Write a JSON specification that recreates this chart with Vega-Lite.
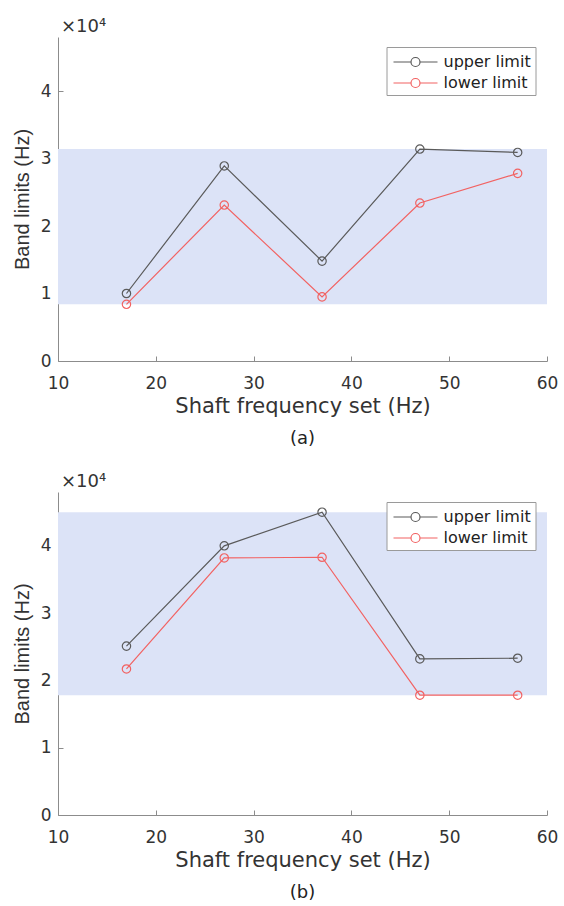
{
  "$schema": "https://vega.github.io/schema/vega-lite/v6.json",
  "background": "white",
  "padding": {"left": 12, "top": 18, "right": 12, "bottom": 5},
  "spacing": 25,
  "datasets": {
    "limits": [
      {"panel": "a", "series": "upper limit", "freq": 17, "value": 10000},
      {"panel": "a", "series": "upper limit", "freq": 27, "value": 28900},
      {"panel": "a", "series": "upper limit", "freq": 37, "value": 14800},
      {"panel": "a", "series": "upper limit", "freq": 47, "value": 31400},
      {"panel": "a", "series": "upper limit", "freq": 57, "value": 30900},
      {"panel": "a", "series": "lower limit", "freq": 17, "value": 8400},
      {"panel": "a", "series": "lower limit", "freq": 27, "value": 23100},
      {"panel": "a", "series": "lower limit", "freq": 37, "value": 9500},
      {"panel": "a", "series": "lower limit", "freq": 47, "value": 23400},
      {"panel": "a", "series": "lower limit", "freq": 57, "value": 27800},
      {"panel": "b", "series": "upper limit", "freq": 17, "value": 25100},
      {"panel": "b", "series": "upper limit", "freq": 27, "value": 40000},
      {"panel": "b", "series": "upper limit", "freq": 37, "value": 45000},
      {"panel": "b", "series": "upper limit", "freq": 47, "value": 23200},
      {"panel": "b", "series": "upper limit", "freq": 57, "value": 23300},
      {"panel": "b", "series": "lower limit", "freq": 17, "value": 21700},
      {"panel": "b", "series": "lower limit", "freq": 27, "value": 38200},
      {"panel": "b", "series": "lower limit", "freq": 37, "value": 38300},
      {"panel": "b", "series": "lower limit", "freq": 47, "value": 17800},
      {"panel": "b", "series": "lower limit", "freq": 57, "value": 17800}
    ]
  },
  "config": {
    "view": {"stroke": null},
    "axis": {
      "grid": false,
      "domainColor": "#8c8c8c",
      "tickColor": "#8c8c8c",
      "tickSize": -5,
      "labelFlush": false,
      "labelColor": "#333333",
      "labelFont": "DejaVu Sans",
      "labelFontSize": 17,
      "titleColor": "#333333",
      "titleFontWeight": "normal"
    },
    "title": {
      "font": "DejaVu Sans",
      "fontSize": 18,
      "fontWeight": "normal",
      "color": "#222222"
    },
    "legend": {
      "title": null,
      "orient": "none",
      "legendX": 328.5,
      "legendY": 10,
      "symbolType": "M-2.2,0H-0.45M0.45,0H2.2M0.45,0C0.45,0.2485 0.2485,0.45 0,0.45C-0.2485,0.45 -0.45,0.2485 -0.45,0C-0.45,-0.2485 -0.2485,-0.45 0,-0.45C0.2485,-0.45 0.45,-0.2485 0.45,0Z",
      "symbolSize": 400,
      "symbolOffset": 14,
      "symbolStrokeWidth": 1.2,
      "symbolFillColor": "transparent",
      "labelFont": "DejaVu Sans",
      "labelFontSize": 16,
      "labelColor": "#222222",
      "labelOffset": 17,
      "labelLimit": 200,
      "strokeColor": "#9a9a9a",
      "fillColor": "white",
      "padding": 4,
      "rowPadding": 2
    }
  },
  "resolve": {"legend": {"color": "independent"}},
  "vconcat": [
    {
      "width": 489,
      "height": 324,
      "title": {"text": "(a)", "orient": "bottom", "offset": 14},
      "data": {"name": "limits"},
      "transform": [{"filter": "datum.panel === 'a'"}],
      "layer": [
        {
          "transform": [{"aggregate": [{"op": "min", "field": "value", "as": "lo"}, {"op": "max", "field": "value", "as": "hi"}]}],
          "mark": {"type": "rect", "color": "#dce3f7"},
          "encoding": {
            "x": {"datum": 10, "type": "quantitative", "title": "Shaft frequency set (Hz)"},
            "x2": {"datum": 60},
            "y": {"field": "lo", "type": "quantitative", "title": "Band limits (Hz)"},
            "y2": {"field": "hi"}
          }
        },
        {
          "mark": {"type": "line", "strokeWidth": 1.2},
          "encoding": {
            "x": {"field": "freq", "type": "quantitative", "title": "Shaft frequency set (Hz)", "scale": {"domain": [10, 60], "nice": false, "zero": false}, "axis": {"values": [10, 20, 30, 40, 50, 60], "labelPadding": 19, "titleFont": "DejaVu Sans", "titleFontSize": 21, "titlePadding": 4}},
            "y": {"field": "value", "type": "quantitative", "title": "Band limits (Hz)", "scale": {"domain": [0, 48000], "nice": false}, "axis": {"values": [0, 10000, 20000, 30000, 40000], "labelExpr": "datum.value / 10000", "labelPadding": 12, "titleFont": "Liberation Sans", "titleFontSize": 20, "titlePadding": 8}},
            "color": {"field": "series", "type": "nominal", "scale": {"domain": ["upper limit", "lower limit"], "range": ["#5a5a5a", "#f26262"]}}
          }
        },
        {
          "mark": {"type": "point", "shape": "circle", "filled": false, "size": 70, "strokeWidth": 1.2, "opacity": 1},
          "encoding": {
            "x": {"field": "freq", "type": "quantitative", "title": "Shaft frequency set (Hz)"},
            "y": {"field": "value", "type": "quantitative", "title": "Band limits (Hz)"},
            "color": {"field": "series", "type": "nominal"}
          }
        },
        {
          "transform": [{"aggregate": [{"op": "count", "as": "n"}]}],
          "mark": {"type": "text", "text": "×10⁴", "align": "left", "baseline": "bottom", "dx": 3, "dy": -1, "font": "DejaVu Sans", "fontSize": 18, "color": "#333333"},
          "encoding": {
            "x": {"datum": 10, "type": "quantitative", "title": "Shaft frequency set (Hz)"},
            "y": {"datum": 48000, "type": "quantitative", "title": "Band limits (Hz)"}
          }
        }
      ]
    },
    {
      "width": 489,
      "height": 323,
      "title": {"text": "(b)", "orient": "bottom", "offset": 14},
      "data": {"name": "limits"},
      "transform": [{"filter": "datum.panel === 'b'"}],
      "layer": [
        {
          "transform": [{"aggregate": [{"op": "min", "field": "value", "as": "lo"}, {"op": "max", "field": "value", "as": "hi"}]}],
          "mark": {"type": "rect", "color": "#dce3f7"},
          "encoding": {
            "x": {"datum": 10, "type": "quantitative", "title": "Shaft frequency set (Hz)"},
            "x2": {"datum": 60},
            "y": {"field": "lo", "type": "quantitative", "title": "Band limits (Hz)"},
            "y2": {"field": "hi"}
          }
        },
        {
          "mark": {"type": "line", "strokeWidth": 1.2},
          "encoding": {
            "x": {"field": "freq", "type": "quantitative", "title": "Shaft frequency set (Hz)", "scale": {"domain": [10, 60], "nice": false, "zero": false}, "axis": {"values": [10, 20, 30, 40, 50, 60], "labelPadding": 19, "titleFont": "DejaVu Sans", "titleFontSize": 21, "titlePadding": 4}},
            "y": {"field": "value", "type": "quantitative", "title": "Band limits (Hz)", "scale": {"domain": [0, 48000], "nice": false}, "axis": {"values": [0, 10000, 20000, 30000, 40000], "labelExpr": "datum.value / 10000", "labelPadding": 12, "titleFont": "Liberation Sans", "titleFontSize": 20, "titlePadding": 8}},
            "color": {"field": "series", "type": "nominal", "scale": {"domain": ["upper limit", "lower limit"], "range": ["#5a5a5a", "#f26262"]}}
          }
        },
        {
          "mark": {"type": "point", "shape": "circle", "filled": false, "size": 70, "strokeWidth": 1.2, "opacity": 1},
          "encoding": {
            "x": {"field": "freq", "type": "quantitative", "title": "Shaft frequency set (Hz)"},
            "y": {"field": "value", "type": "quantitative", "title": "Band limits (Hz)"},
            "color": {"field": "series", "type": "nominal"}
          }
        },
        {
          "transform": [{"aggregate": [{"op": "count", "as": "n"}]}],
          "mark": {"type": "text", "text": "×10⁴", "align": "left", "baseline": "bottom", "dx": 3, "dy": -1, "font": "DejaVu Sans", "fontSize": 18, "color": "#333333"},
          "encoding": {
            "x": {"datum": 10, "type": "quantitative", "title": "Shaft frequency set (Hz)"},
            "y": {"datum": 48000, "type": "quantitative", "title": "Band limits (Hz)"}
          }
        }
      ]
    }
  ]
}
